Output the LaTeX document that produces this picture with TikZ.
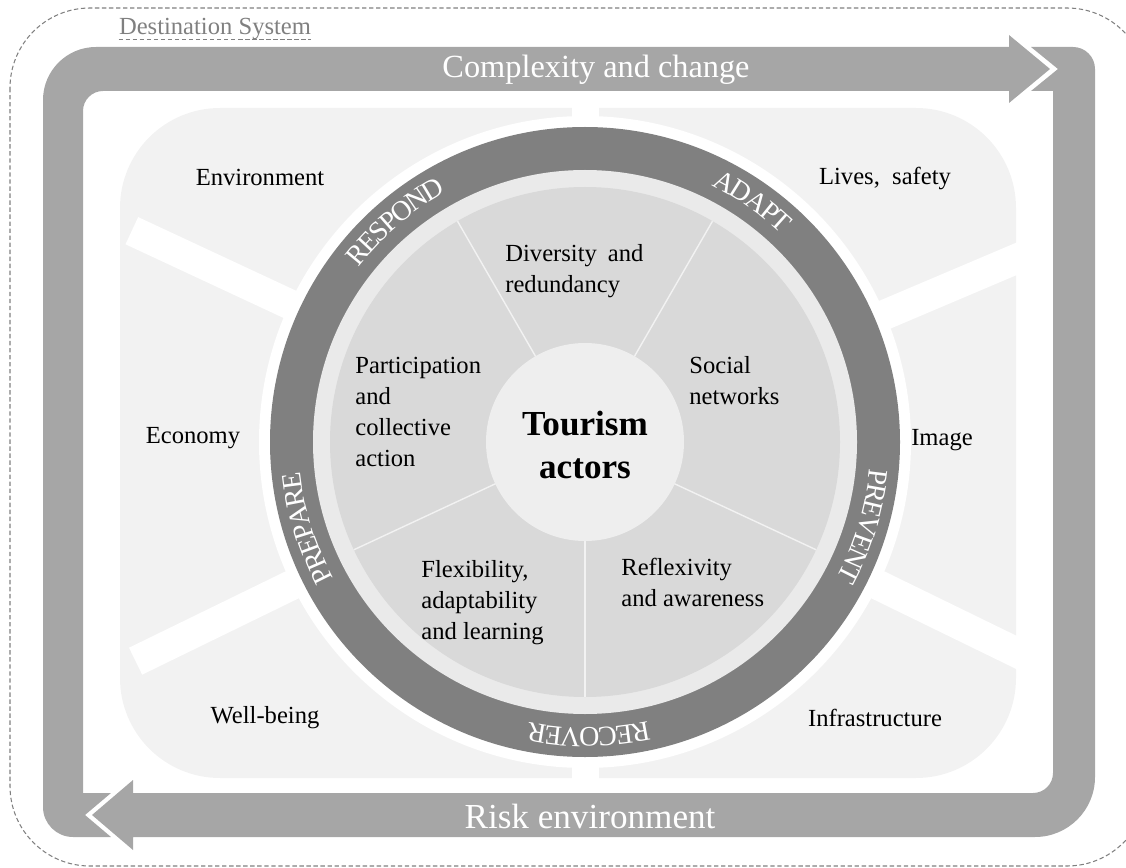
\documentclass[tikz,border=0pt]{standalone}
\usepackage{fontspec}
\setmainfont{Liberation Serif}
\usetikzlibrary{decorations.text}

\definecolor{bandgray}{HTML}{A6A6A6}
\definecolor{ringgray}{HTML}{808080}
\definecolor{panelgray}{HTML}{F2F2F2}
\definecolor{halogray}{HTML}{EAEAEA}
\definecolor{sectorgray}{HTML}{D9D9D9}
\definecolor{coregray}{HTML}{EEEEEE}

\tikzset{
  paneltext/.style={font=\fontsize{14}{17}\selectfont},
  factor/.style={font=\fontsize{14}{17.6}\selectfont, align=left, anchor=west, inner sep=0pt},
  bandtext/.style={text=white},
}

% white caps written along the dark ring, centred on angle #1
\newcommand\ringlabel[2]{%
  \path[decorate, decoration={text along path, text align=center,
      text={|\fontsize{16}{16}\selectfont\color{white}\kern-1.1pt|#2}}]
    (585,-442) ++(#1+40:286) arc[start angle=#1+40, end angle=#1-40, radius=286];}

\begin{document}
\begin{tikzpicture}[x=0.02cm, y=0.02cm]
  \useasboundingbox (0,0) rectangle (1126,-868);
  \clip (0,0) rectangle (1126,-868);

  % destination panels and the gaps between them
  \fill[panelgray, rounded corners=2cm] (120,-108) rectangle (1016,-778);
  \foreach \a in {23,155,206,334}
    \draw[white, line width=0.6cm] (585,-442) -- ++(\a:500);
  \foreach \a in {90,270}
    \draw[white, line width=0.54cm] (585,-442) -- ++(\a:360);

  \draw[ringgray, line width=0.6pt, dash pattern=on 2.5pt off 1.5pt] (10,-8) [rounded corners=1.6cm] rectangle (1147,-866);
  \node[font=\fontsize{14}{17}\selectfont, text=ringgray, inner sep=0pt] (ds) at (215,-29) {Destination System};
  \draw[ringgray, line width=0.6pt, dash pattern=on 2.5pt off 1.5pt] ([yshift=-2.8pt]ds.base west) -- ([yshift=-2.8pt]ds.base east);

  % the two arrows round the frame
  \fill[bandgray] (111,-793) -- (85,-815) -- (111,-837) -- (73,-837)
    arc[start angle=270, end angle=180, radius=30] -- (43,-100)
    arc[start angle=180, end angle=90, radius=53] -- (1009,-47) -- (1009,-35)
    -- (1050,-69) -- (1009,-103) -- (1009,-91) -- (103,-91)
    arc[start angle=90, end angle=180, radius=20] -- (83,-793) -- cycle;
  \fill[bandgray] (1031,-47) -- (1058,-69) -- (1031,-91) -- (1053,-91) -- (1053,-773)
    arc[start angle=0, end angle=-90, radius=20] -- (133,-793) -- (133,-780)
    -- (92,-815) -- (133,-850) -- (133,-837) -- (1035,-837)
    arc[start angle=270, end angle=360, radius=60] -- (1095,-69)
    arc[start angle=0, end angle=90, radius=22] -- cycle;
  \node[bandtext, font=\fontsize{18.4}{20}\selectfont] (change) at (596,-70) {Complexity and change};
  \node[bandtext, font=\fontsize{20}{22}\selectfont] (risk) at (590,-816) {Risk environment};

  % the wheel
  \fill[white] (585,-442) circle[radius=326];
  \fill[ringgray] (585,-442) circle[radius=315];
  \fill[halogray] (585,-442) circle[radius=272];
  \fill[sectorgray] (585,-442) circle[radius=255];
  \foreach \a in {60,120,205,270,335}
    \draw[panelgray, line width=0.8pt] (585,-442) -- ++(\a:255);
  \fill[coregray] (585,-442) circle[radius=99];

  \ringlabel{130.5}{RESPOND}
  \ringlabel{55}{ADAPT}
  \ringlabel{197}{PREPARE}
  \ringlabel{343}{PREVENT}
  \ringlabel{270.5}{RECOVER}

  \node[paneltext] (env) at (260,-177) {Environment};
  \node[paneltext] (lives) at (885,-178) {Lives,\ \ safety};
  \node[paneltext] (econ) at (193,-438) {Economy};
  \node[paneltext] (img) at (942,-440) {Image};
  \node[paneltext] (well) at (265,-718) {Well-being};
  \node[paneltext] (infra) at (875,-718) {Infrastructure};

  \node[factor] (div) at (505,-271) {Diversity\hspace{0.45em}and\\redundancy};
  \node[factor] (part) at (355,-412) {Participation\\and\\collective\\action};
  \node[factor] (soc) at (689,-381) {Social\\networks};
  \node[factor] (flex) at (421,-603) {Flexibility,\\adaptability\\and learning};
  \node[factor] (refl) at (621,-582) {Reflexivity\\and awareness};
  \node[font=\fontsize{20}{24}\selectfont\bfseries, align=center] (actors) at (585,-445) {Tourism\\actors};
\end{tikzpicture}
\end{document}
